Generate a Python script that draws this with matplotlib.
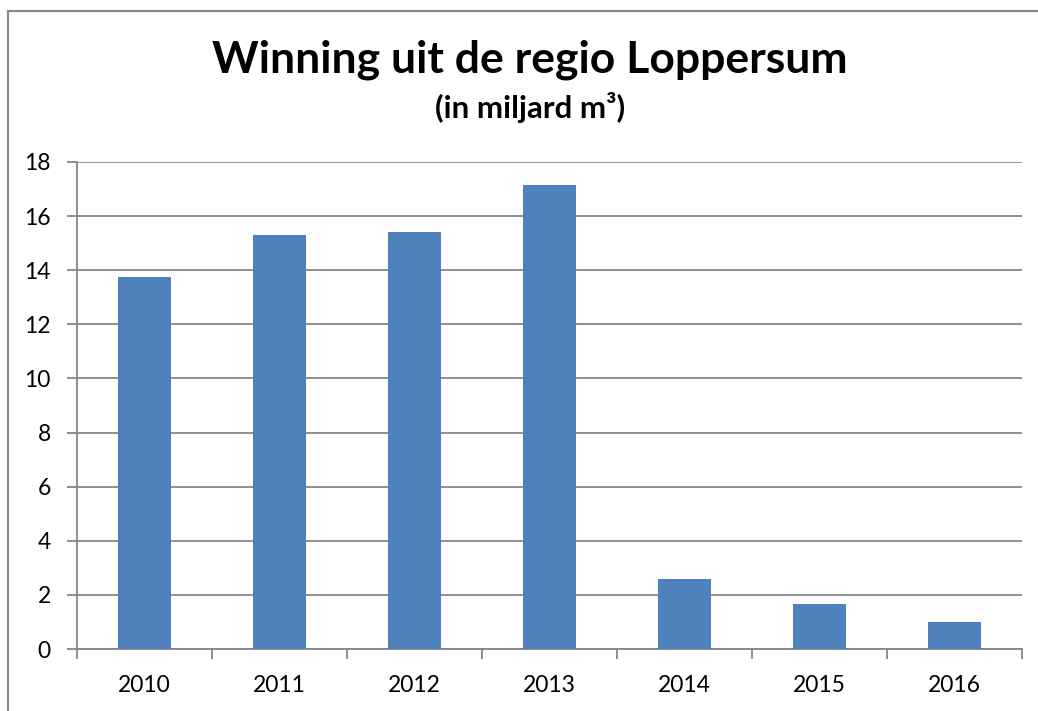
import matplotlib.pyplot as plt
from matplotlib.lines import Line2D

years = ["2010", "2011", "2012", "2013", "2014", "2015", "2016"]
winning = [13.75, 15.3, 15.41, 17.15, 2.58, 1.65, 0.99]

BAR = "#4F81BD"
GRID = "#868686"

plt.rcParams["font.family"] = ["Lato", "DejaVu Sans"]

fig = plt.figure(figsize=(10.38, 7.11), dpi=100)
ax = fig.add_axes([0.0742, 0.0872, 0.9104, 0.685])

x = list(range(len(years)))
ax.bar(x, winning, width=0.39, color=BAR, zorder=3)

ax.set_xlim(-0.5, len(years) - 0.5)
ax.set_ylim(0, 18)
ax.set_yticks(range(0, 19, 2))
ax.yaxis.grid(True, color=GRID, linewidth=1.3, zorder=0)

# category labels between boundary ticks
ax.set_xticks([i - 0.5 for i in range(len(years) + 1)])
ax.set_xticklabels([])
ax.set_xticks(x, minor=True)
ax.set_xticklabels(years, minor=True)
ax.tick_params(axis="x", which="minor", length=0, pad=19, labelsize=16.5)
ax.tick_params(axis="x", which="major", length=7, width=1.3, color=GRID)
ax.tick_params(axis="y", length=7, width=1.3, color=GRID, labelsize=16.5, pad=12)

for side in ["top", "right"]:
    ax.spines[side].set_visible(False)
for side in ["left", "bottom"]:
    ax.spines[side].set_color(GRID)
    ax.spines[side].set_linewidth(1.3)

fig.text(530 / 1038, 1 - 73 / 711, "Winning uit de regio Loppersum",
         ha="center", va="baseline", fontsize=32, fontweight="bold")
fig.text(530 / 1038, 1 - 118 / 711, "(in miljard m³)",
         ha="center", va="baseline", fontsize=22.5, fontweight="bold")

# chart frame (only top and left edges visible)
fig.add_artist(Line2D([8 / 1038, 8 / 1038], [0, 1 - 11 / 711],
                      transform=fig.transFigure, color="#878787", linewidth=1.5))
fig.add_artist(Line2D([8 / 1038, 1], [1 - 11 / 711, 1 - 11 / 711],
                      transform=fig.transFigure, color="#878787", linewidth=1.5))

fig.savefig("out.png", dpi=100, facecolor="white")
